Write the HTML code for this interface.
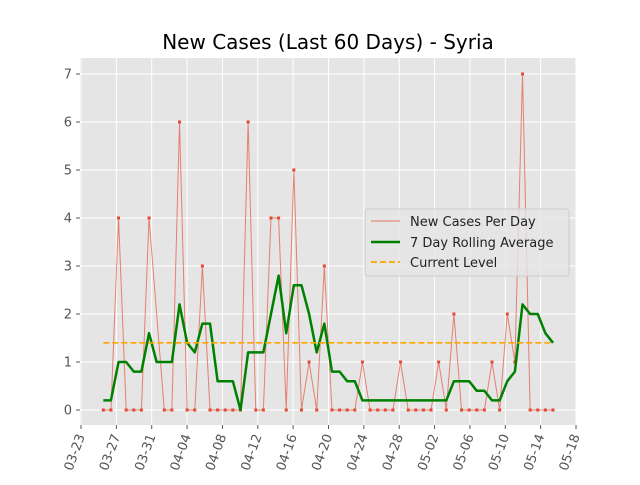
<!DOCTYPE html>
<html><head><meta charset="utf-8"><style>
body{margin:0;background:#fff;font-family:"Liberation Sans","DejaVu Sans",sans-serif;}
svg text{font-family:"DejaVu Sans","Liberation Sans",sans-serif;}
</style></head><body>
<svg id="chart" width="640" height="480" xmlns="http://www.w3.org/2000/svg">
<rect width="640" height="480" fill="#fff"/>
<text x="328" y="49" font-size="20" text-anchor="middle" fill="#000">New Cases (Last 60 Days) - Syria</text>
<rect x="80" y="58" width="496" height="367" fill="#e5e5e5"/>
<g id="grid"></g><g id="marks"></g><g id="axes"></g>
<g>
<rect x="365" y="209" width="204" height="67" rx="3" fill="#e5e5e5" fill-opacity="0.8" stroke="#ccc"/>
<line x1="371" y1="221" x2="400" y2="221" stroke="#e24a33" stroke-width="1" opacity="0.7"/>
<text x="410" y="226" font-size="13" fill="#222">New Cases Per Day</text>
<line x1="371" y1="242" x2="400" y2="242" stroke="#008000" stroke-width="2.5"/>
<text x="410" y="247" font-size="13" fill="#222">7 Day Rolling Average</text>
<line x1="371" y1="262" x2="400" y2="262" stroke="#ffa500" stroke-width="1.7" stroke-dasharray="6,3"/>
<text x="410" y="267" font-size="13" fill="#222">Current Level</text>
</g>
</svg>
<script>
const newCases=[0,0,4,0,0,0,4,null,0,0,6,0,0,3,0,0,0,0,0,6,0,0,4,4,0,5,0,1,0,3,0,0,0,0,1,0,0,0,0,1,0,0,0,0,1,0,2,0,0,0,0,1,0,2,1,7,0,0,0,0];
const rolling=[0.2,0.2,1.0,1.0,0.8,0.8,1.6,1.0,1.0,1.0,2.2,1.4,1.2,1.8,1.8,0.6,0.6,0.6,0.0,1.2,1.2,1.2,2.0,2.8,1.6,2.6,2.6,2.0,1.2,1.8,0.8,0.8,0.6,0.6,0.2,0.2,0.2,0.2,0.2,0.2,0.2,0.2,0.2,0.2,0.2,0.2,0.6,0.6,0.6,0.4,0.4,0.2,0.2,0.6,0.8,2.2,2.0,2.0,1.6,1.4];
const currentLevel=1.4;
const xTickLabels=["03-23","03-27","03-31","04-04","04-08","04-12","04-16","04-20","04-24","04-28","05-02","05-06","05-10","05-14","05-18"];
const yTicks=[0,1,2,3,4,5,6,7];
const NS="http://www.w3.org/2000/svg";
function xi(i){return 103.3+i*(553-103.3)/(newCases.length-1);}
function xt(k){return 81+k*(576-81)/(xTickLabels.length-1);}
function y(v){return 410-v*48;}
function mk(tag,attrs,parent){const e=document.createElementNS(NS,tag);for(const k in attrs)e.setAttribute(k,attrs[k]);parent.appendChild(e);return e;}
const grid=document.getElementById('grid'),marks=document.getElementById('marks'),axes=document.getElementById('axes');
yTicks.forEach(v=>{
  const l=mk('line',{x1:80,x2:576,y1:y(v),y2:y(v),stroke:'#fff','stroke-width':1},grid);
  
  
  mk('line',{x1:76,x2:80,y1:y(v),y2:y(v),stroke:'#555'},axes);
  const t=mk('text',{x:72,y:y(v)+4.5,'font-size':13,'text-anchor':'end',fill:'#555'},axes);
  t.textContent=v;
  
  
});
xTickLabels.forEach((s,k)=>{
  const x=xt(k);
  const l=mk('line',{x1:x,x2:x,y1:58,y2:425,stroke:'#fff','stroke-width':1},grid);
  
  
  mk('line',{x1:x,x2:x,y1:425,y2:429,stroke:'#555'},axes);
  const t=mk('text',{x:x+4,y:436,'font-size':13,'text-anchor':'end',fill:'#555',transform:`rotate(-70 ${x+4} 436)`},axes);
  t.textContent=s;
  
  
});
let pts=[];newCases.forEach((v,i)=>{if(v!==null)pts.push(xi(i)+','+y(v));});
const rl=mk('polyline',{points:pts.join(' '),fill:'none',stroke:'#e24a33','stroke-width':1,opacity:0.65},marks);


newCases.forEach((v,i)=>{if(v===null)return;
  const r=mk('rect',{x:xi(i)-1.5,y:y(v)-1.5,width:3,height:3,fill:'#e24a33'},marks);
  
  
});
const gl=mk('polyline',{points:rolling.map((v,i)=>xi(i)+','+y(v)).join(' '),fill:'none',stroke:'#008000','stroke-width':2.5,'stroke-linejoin':'round'},marks);


const cl=mk('line',{x1:xi(0),x2:xi(newCases.length-1),y1:y(currentLevel),y2:y(currentLevel),stroke:'#ffa500','stroke-width':1.7,'stroke-dasharray':'6,3'},marks);


</script>
</body></html>
